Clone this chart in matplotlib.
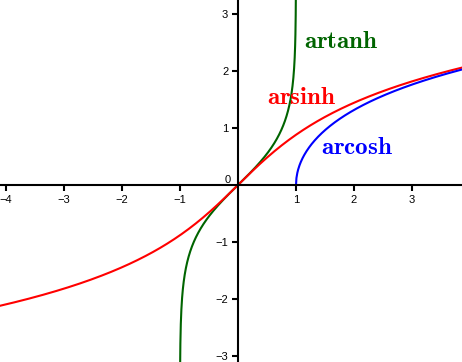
import matplotlib.pyplot as plt
import numpy as np

plt.rcParams["mathtext.fontset"] = "cm"

# sample points for each inverse hyperbolic function
x_sinh = np.linspace(-4.2, 4.0, 400)
x_cosh = np.linspace(1.0, 4.0, 400)
x_tanh = np.linspace(-0.9999, 0.9999, 800)

x_ticks = [-4, -3, -2, -1, 1, 2, 3]
y_ticks = [-3, -2, -1, 1, 2, 3]

dark_green = "#006400"


def main() -> None:
    fig = plt.figure(figsize=(4.62, 3.62), dpi=100)
    ax = fig.add_axes([0, 0, 1, 1])

    ax.plot(x_tanh, np.arctanh(x_tanh), color=dark_green, lw=1.5)
    ax.plot(x_sinh, np.arcsinh(x_sinh), color="red", lw=1.5)
    ax.plot(x_cosh, np.arccosh(x_cosh), color="blue", lw=1.5)

    ax.text(1.78, 2.53, r"$\mathbf{artanh}$", color=dark_green, fontsize=18,
            ha="center", va="center")
    ax.text(1.10, 1.54, r"$\mathbf{arsinh}$", color="red", fontsize=18,
            ha="center", va="center")
    ax.text(2.05, 0.67, r"$\mathbf{arcosh}$", color="blue", fontsize=18,
            ha="center", va="center")

    ax.set_xlim(-4.10, 3.86)
    ax.set_ylim(-3.105, 3.246)

    # axes through the origin
    for side in ["top", "right"]:
        ax.spines[side].set_visible(False)
    ax.spines["left"].set_position(("data", 0))
    ax.spines["bottom"].set_position(("data", 0))
    ax.spines["left"].set_linewidth(1.5)
    ax.spines["bottom"].set_linewidth(1.5)

    ax.set_xticks(x_ticks)
    ax.set_xticklabels([str(t).replace("-", "\u2212") for t in x_ticks])
    ax.set_yticks(y_ticks)
    ax.set_yticklabels([str(t).replace("-", "\u2212") for t in y_ticks])
    ax.tick_params(axis="both", direction="out", length=4, width=1.5,
                   labelsize=8, pad=3)
    for lbl in ax.get_xticklabels() + ax.get_yticklabels():
        lbl.set_fontfamily("Liberation Sans")

    ax.text(-0.12, 0.09, "0", fontsize=8, family="Liberation Sans",
            ha="right", va="center")

    fig.savefig("out.png", dpi=100)


if __name__ == "__main__":
    main()
